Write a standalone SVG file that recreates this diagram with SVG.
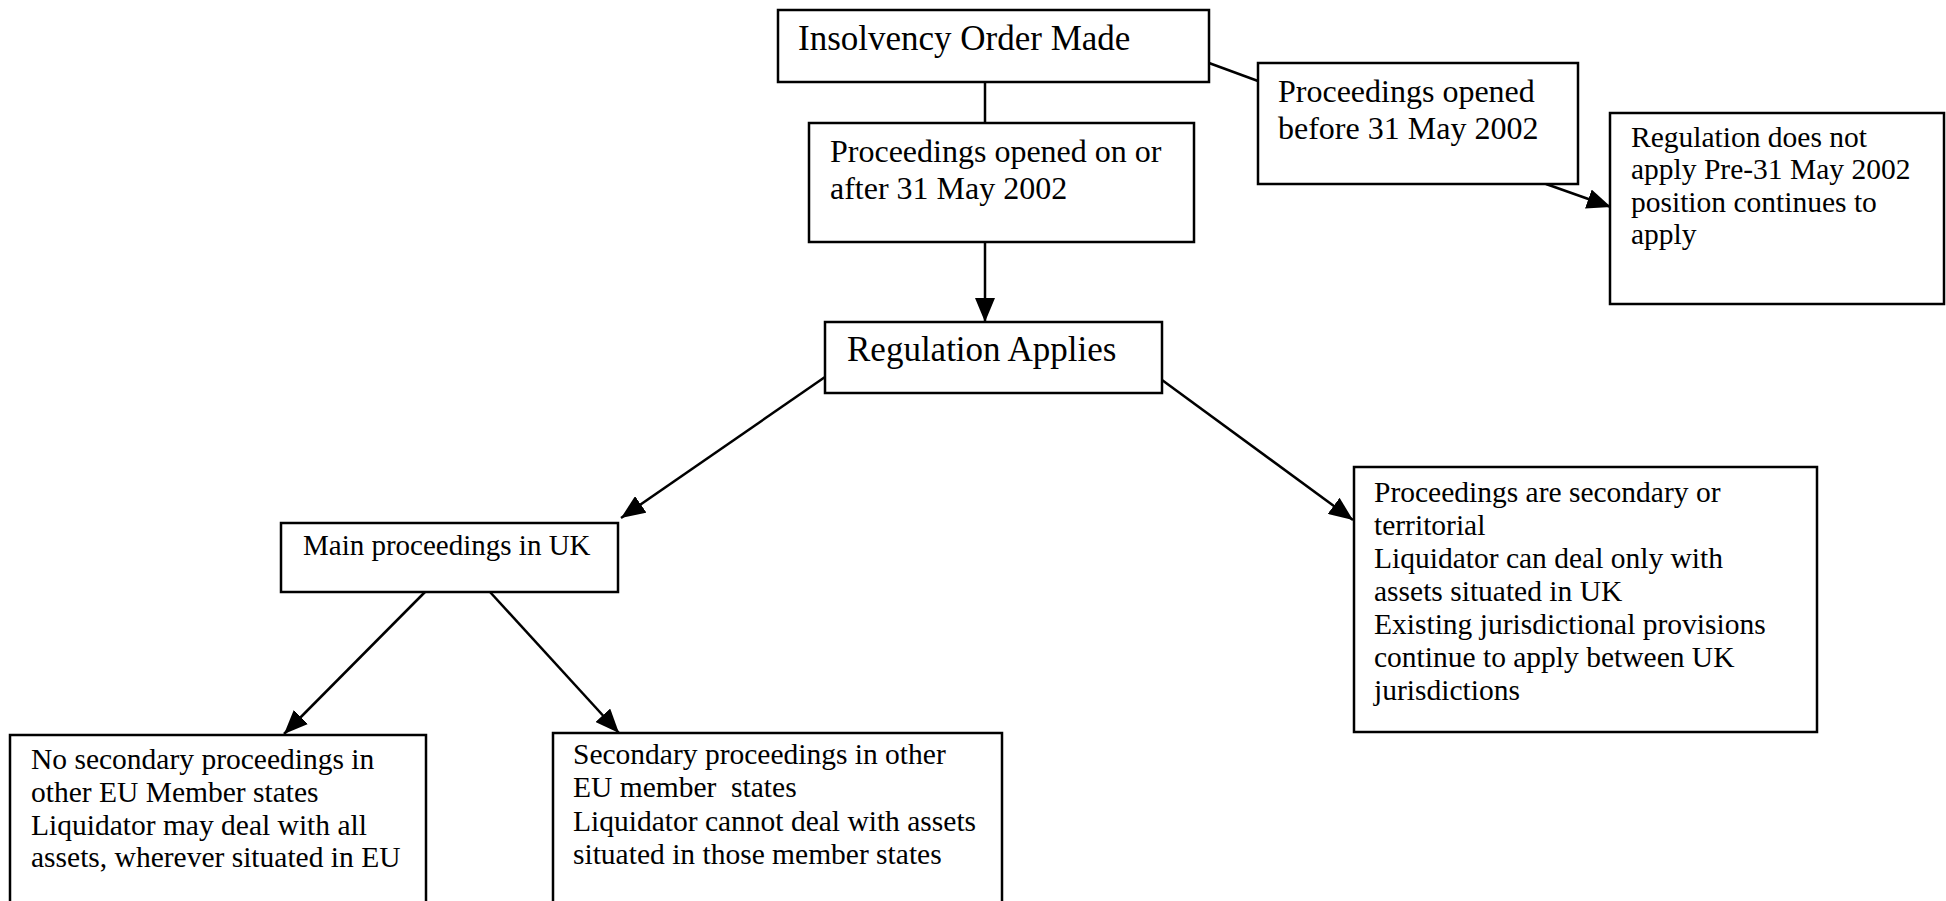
<svg xmlns="http://www.w3.org/2000/svg" width="1946" height="901" viewBox="0 0 1946 901">
<style>
.box{fill:#fff;stroke:#000;stroke-width:2.5}
.t{font-family:"Liberation Serif","Times New Roman",serif;fill:#000}
.c{stroke:#000;stroke-width:2.5;fill:none}
</style>
<defs>
<marker id="ah" markerWidth="24" markerHeight="20" refX="24" refY="10" orient="auto" markerUnits="userSpaceOnUse"><path d="M0,0 L24,10 L0,20 Z" fill="#000"/></marker>
</defs>
<rect width="1946" height="901" fill="#fff"/>
<g id="connectors">
<line class="c" x1="985" y1="82" x2="985" y2="123"/>
<line class="c" x1="1209" y1="63" x2="1258" y2="81"/>
<line class="c" x1="1546" y1="184" x2="1611" y2="207" marker-end="url(#ah)"/>
<line class="c" x1="985" y1="242" x2="985" y2="322" marker-end="url(#ah)"/>
<line class="c" x1="825" y1="377" x2="621" y2="518" marker-end="url(#ah)"/>
<line class="c" x1="1162" y1="380" x2="1353" y2="520" marker-end="url(#ah)"/>
<line class="c" x1="425" y1="592" x2="284" y2="734" marker-end="url(#ah)"/>
<line class="c" x1="490" y1="592" x2="619" y2="733" marker-end="url(#ah)"/>
</g>
<g id="insolvency">
<rect class="box" x="778" y="10" width="431" height="72"/>
<text class="t" x="798" y="50" font-size="35">Insolvency Order Made</text>
</g>
<g id="after">
<rect class="box" x="809" y="123" width="385" height="119"/>
<text class="t" font-size="32"><tspan x="830" y="162">Proceedings opened on or</tspan><tspan x="830" y="199">after 31 May 2002</tspan></text>
</g>
<g id="before">
<rect class="box" x="1258" y="63" width="320" height="121"/>
<text class="t" font-size="32"><tspan x="1278" y="102">Proceedings opened</tspan><tspan x="1278" y="139">before 31 May 2002</tspan></text>
</g>
<g id="notapply">
<rect class="box" x="1610" y="113" width="334" height="191"/>
<text class="t" font-size="29.5"><tspan x="1631" y="147">Regulation does not</tspan><tspan x="1631" y="179">apply Pre-31 May 2002</tspan><tspan x="1631" y="212">position continues to</tspan><tspan x="1631" y="244">apply</tspan></text>
</g>
<g id="applies">
<rect class="box" x="825" y="322" width="337" height="71"/>
<text class="t" x="847" y="361" font-size="35">Regulation Applies</text>
</g>
<g id="main">
<rect class="box" x="281" y="523" width="337" height="69"/>
<text class="t" x="303" y="555" font-size="29">Main proceedings in UK</text>
</g>
<g id="nosecondary">
<rect class="box" x="10" y="735" width="416" height="200"/>
<text class="t" font-size="29.5"><tspan x="31" y="769">No secondary proceedings in</tspan><tspan x="31" y="802">other EU Member states</tspan><tspan x="31" y="835">Liquidator may deal with all</tspan><tspan x="31" y="867">assets, wherever situated in EU</tspan></text>
</g>
<g id="secondary">
<rect class="box" x="553" y="733" width="449" height="200"/>
<text class="t" font-size="29.5" xml:space="preserve"><tspan x="573" y="764">Secondary proceedings in other</tspan><tspan x="573" y="797">EU member  states</tspan><tspan x="573" y="831">Liquidator cannot deal with assets</tspan><tspan x="573" y="864">situated in those member states</tspan></text>
</g>
<g id="territorial">
<rect class="box" x="1354" y="467" width="463" height="265"/>
<text class="t" font-size="29.5"><tspan x="1374" y="502">Proceedings are secondary or</tspan><tspan x="1374" y="535">territorial</tspan><tspan x="1374" y="568">Liquidator can deal only with</tspan><tspan x="1374" y="601">assets situated in UK</tspan><tspan x="1374" y="634">Existing jurisdictional provisions</tspan><tspan x="1374" y="667">continue to apply between UK</tspan><tspan x="1374" y="700">jurisdictions</tspan></text>
</g>
</svg>
